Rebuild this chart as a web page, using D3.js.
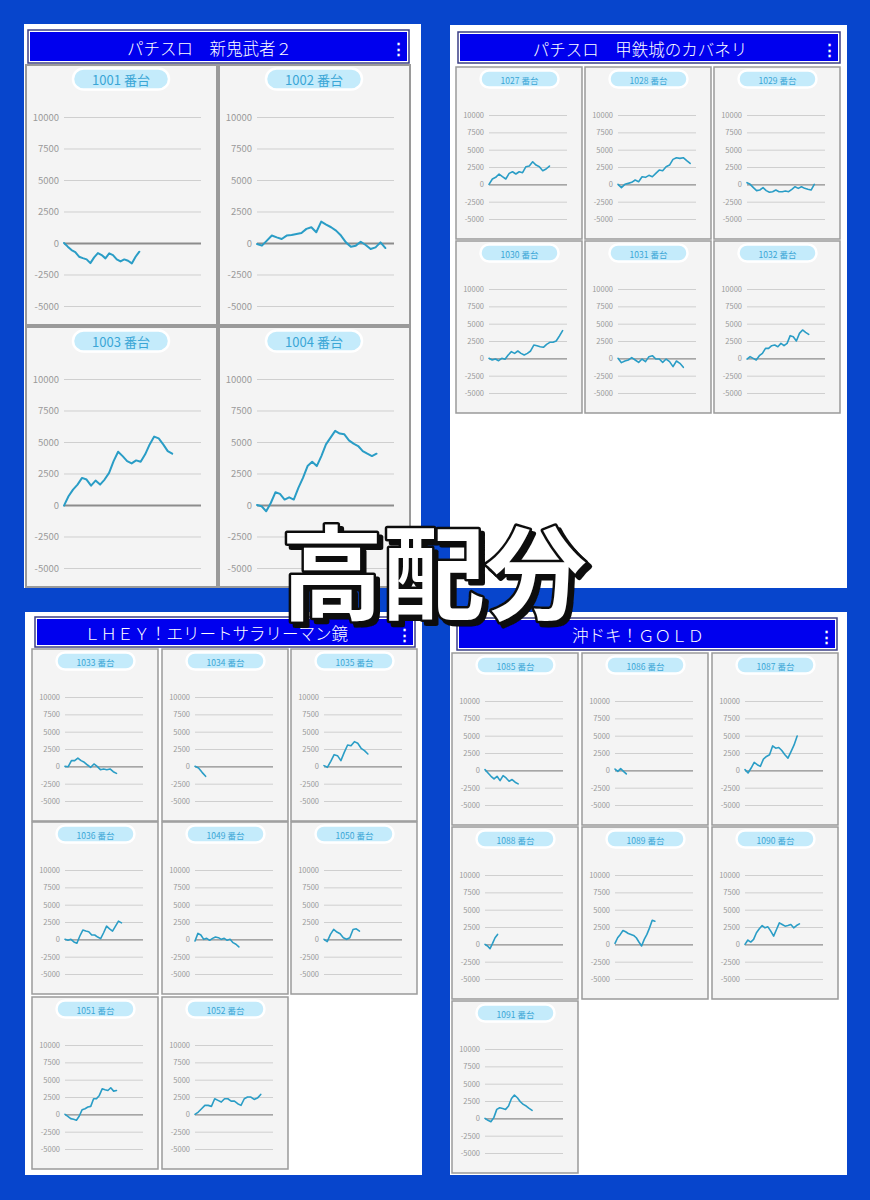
<!DOCTYPE html>
<html><head><meta charset="utf-8">
<script src="https://cdn.jsdelivr.net/npm/d3@7"></script>
<style>body{margin:0;background:#0745cc;} svg{display:block}</style>
</head><body><svg id="c" width="870" height="1200"></svg>
<script>
// ---------- DATA ----------
const panelTitles = ["パチスロ　新鬼武者２", "パチスロ　甲鉄城のカバネリ", "ＬＨＥＹ！エリートサラリーマン鏡", "沖ドキ！ＧＯＬＤ"];
const panelMachines = [
  [1001, 1002, 1003, 1004],
  [1027, 1028, 1029, 1030, 1031, 1032],
  [1033, 1034, 1035, 1036, 1049, 1050, 1051, 1052],
  [1085, 1086, 1087, 1088, 1089, 1090, 1091]
];
const yTicks = [10000, 7500, 5000, 2500, 0, -2500, -5000];
const gameMax = 8000;
const gamesPlayed = {
  1001: 4400, 1002: 7500, 1003: 6320, 1004: 6980,
  1027: 6200, 1028: 7400, 1029: 6900, 1030: 7550, 1031: 6700, 1032: 6330,
  1033: 5280, 1034: 1090, 1035: 4500, 1036: 5790, 1049: 4500, 1050: 3640, 1051: 5280, 1052: 6740,
  1085: 3400, 1086: 1160, 1087: 5350, 1088: 1290, 1089: 4090, 1090: 5580, 1091: 4830
};
const s1001 = [0, -290, -560, -720, -1090, -1200, -1300, -1600, -1140, -800, -960, -1220, -820, -960, -1300, -1460, -1300, -1410, -1620, -1090, -690];
const s1002 = [-80, -210, 190, 590, 450, 320, 590, 640, 720, 800, 1120, 1250, 850, 1700, 1460, 1250, 980, 590, 50, -290, -210, 100, -160, -480, -350, 50, -400];
const s1003 = [-50, 690, 1220, 1620, 2150, 2020, 1540, 1940, 1620, 2020, 2550, 3480, 4230, 3880, 3480, 3300, 3540, 3430, 4020, 4810, 5430, 5290, 4810, 4280, 4070];
const s1004 = [0, -100, -500, 160, 1010, 880, 430, 610, 430, 1360, 2150, 3090, 3430, 3090, 3880, 4810, 5350, 5880, 5670, 5610, 5130, 4870, 4680, 4280, 4070, 3880, 4070];
const s1027 = [0, 770, 1010, 1490, 1100, 770, 1580, 1820, 1490, 1820, 1680, 2540, 2640, 3260, 2780, 2540, 1970, 2210, 2640];
const s1028 = [0, -480, 0, 140, 290, 620, 380, 1100, 1010, 1300, 1100, 1580, 2060, 1970, 2540, 2780, 3600, 3840, 3740, 3840, 3410, 3020];
const s1029 = [240, 0, -480, -910, -820, -480, -910, -1150, -1060, -820, -1060, -1060, -960, -1060, -720, -340, -580, -340, -580, -720, -820, 0];
const s1030 = [0, -240, -100, -340, 0, -140, 480, 960, 720, 1060, 720, 480, 720, 1060, 1920, 1820, 1680, 1590, 2020, 2310, 2310, 2500, 3220, 3990];
const s1031 = [0, -620, -380, -240, 100, -240, -580, -100, -480, 240, 380, -100, -100, -580, -100, -480, -1200, -380, -720, -1300];
const s1032 = [-100, 240, 0, -240, 380, 720, 1440, 1440, 1820, 1920, 1680, 2160, 1820, 2160, 3270, 3120, 2500, 3600, 4090, 3750, 3460];
const s1033 = [0, -50, 820, 820, 1200, 820, 580, 190, -140, 340, 0, -480, -380, -480, -380, -770, -1010];
const s1034 = [0, -240, -870, -1440];
const s1035 = [100, -140, 720, 1680, 1540, 820, 2020, 3080, 2980, 3560, 3320, 2600, 2260, 1780];
const s1036 = [0, -140, 0, -380, -570, 480, 1330, 1190, 1100, 620, 620, 330, 100, 950, 1900, 1520, 1190, 1900, 2620, 2380];
const s1049 = [-240, 860, 620, 0, 140, -140, 140, 330, 240, 0, 140, -140, 0, -480, -710, -1100];
const s1050 = [0, -330, 710, 1430, 1050, 810, 240, 0, 240, 1430, 1520, 1190];
const s1051 = [0, -290, -620, -720, -860, -240, 670, 810, 1050, 1150, 2250, 2250, 2730, 3680, 3540, 3440, 3830, 3350, 3440];
const s1052 = [0, 330, 810, 1290, 1290, 1150, 2250, 2010, 1770, 2250, 2250, 1910, 1910, 1530, 1290, 2250, 2490, 2490, 2150, 2340, 2870];
const s1085 = [100, -380, -860, -1240, -860, -1480, -760, -1100, -1570, -1330, -1710, -1950];
const s1086 = [190, -140, 240, -140, -520];
const s1087 = [100, -380, 330, 1140, 810, 570, 1620, 2000, 2240, 3520, 3190, 3290, 2860, 2240, 1760, 2710, 3670, 4950];
const s1088 = [0, -240, -620, 140, 950, 1430];
const s1089 = [140, 950, 1430, 2000, 1810, 1570, 1430, 1290, 950, 330, -240, 710, 1430, 2380, 3480, 3330];
const s1090 = [0, 620, 330, 710, 1670, 2240, 2710, 2380, 2520, 1900, 1190, 2140, 3100, 2860, 2620, 2710, 2860, 2380, 2710, 2950];
const s1091 = [0, -290, -480, 100, 1290, 1530, 1430, 1290, 1770, 2870, 3350, 2970, 2390, 2010, 1770, 1430, 1150];
const seriesById = {1001:s1001,1002:s1002,1003:s1003,1004:s1004,1027:s1027,1028:s1028,1029:s1029,1030:s1030,1031:s1031,1032:s1032,
  1033:s1033,1034:s1034,1035:s1035,1036:s1036,1049:s1049,1050:s1050,1051:s1051,1052:s1052,
  1085:s1085,1086:s1086,1087:s1087,1088:s1088,1089:s1089,1090:s1090,1091:s1091};
const overlayText = "高配分";

// ---------- LAYOUT ----------
const FONT = "'Noto Sans CJK JP','Noto Sans',sans-serif";
const panels = [
  {x:24,y:24,w:397,h:564, hx:28,hy:30,hw:381,hh:33, cols:[26,219], cw:193, rows:[65,327], ch:260, big:true},
  {x:450,y:25,w:397,h:563, hx:458,hy:32,hw:382,hh:31, cols:[456,585,714], cw:128, rows:[67,241], ch:172},
  {x:25,y:612,w:397,h:563, hx:35,hy:617,hw:380,hh:30, cols:[32,162,291], cw:128, rows:[649,822,997], ch:172},
  {x:450,y:612,w:397,h:563, hx:457,hy:618,hw:380,hh:32, cols:[452,582,712], cw:128, rows:[653,827,1001], ch:172}
];
const styleBig = {pcx:95, pcy:14, pw:96, ph:21, pf:13, gx0:38, gx1:175, gyT:52, gyB:241, lf:9.5, lw:2};
const styleSmall = {pcx:63.5, pcy:12, pw:78, ph:17, pf:8.5, gx0:33, gx1:111, gyT:48, gyB:152, lf:7.5, lw:1.6};

const svg = d3.select("#c");
const defs = svg.append("defs");
const f = defs.append("filter").attr("id","shadow").attr("x","-10%").attr("y","-10%").attr("width","130%").attr("height","130%");
f.append("feDropShadow").attr("dx",4).attr("dy",4).attr("stdDeviation",0.3).attr("flood-color","#111").attr("flood-opacity",1);

svg.append("rect").attr("width",870).attr("height",1200).attr("fill","#0745cc");

panels.forEach((p, pi) => {
  const g = svg.append("g");
  g.append("rect").attr("x",p.x).attr("y",p.y).attr("width",p.w).attr("height",p.h).attr("fill","#ffffff");
  // header
  g.append("rect").attr("x",p.hx).attr("y",p.hy).attr("width",p.hw).attr("height",p.hh)
    .attr("fill","#ffffff").attr("stroke","#3b3f86").attr("stroke-width",1.5);
  g.append("rect").attr("x",p.hx+2).attr("y",p.hy+2).attr("width",p.hw-4).attr("height",p.hh-4)
    .attr("fill","#0000ee");
  g.append("text").attr("x",p.hx+p.hw/2-9).attr("y",p.hy+p.hh/2+1)
    .attr("text-anchor","middle").attr("dominant-baseline","central")
    .attr("fill","#ffffff").attr("font-family",FONT).attr("font-size",16.5).attr("font-weight",300)
    .text(panelTitles[pi]);
  g.append("text").attr("x",p.hx+p.hw-11).attr("y",p.hy+p.hh/2+1)
    .attr("text-anchor","middle").attr("dominant-baseline","central")
    .attr("fill","#ffffff").attr("font-family",FONT).attr("font-size",15).attr("font-weight",700)
    .text("⋮");

  const st = p.big ? styleBig : styleSmall;
  const nc = p.cols.length;
  panelMachines[pi].forEach((id, k) => {
    const cx = p.cols[k % nc], cy = p.rows[Math.floor(k / nc)];
    const bottom = Math.min(cy + p.ch, p.y + p.h);
    const cell = g.append("g");
    cell.append("rect").attr("x",cx).attr("y",cy).attr("width",p.cw-2).attr("height",bottom-cy)
      .attr("fill","#f4f4f4").attr("stroke","#9a9a9a").attr("stroke-width",p.big?2:1.5);

    const x = d3.scaleLinear().domain([0, gameMax]).range([cx+st.gx0, cx+st.gx1]);
    const y = d3.scaleLinear().domain([-5000, 10000]).range([cy+st.gyB, cy+st.gyT]);

    const ax = cell.append("g").attr("transform",`translate(${cx+st.gx0},0)`)
      .call(d3.axisLeft(y).tickValues(yTicks).tickSize(-(st.gx1-st.gx0)).tickPadding(5).tickFormat(d => String(d)));
    ax.select(".domain").remove();
    ax.selectAll(".tick line").attr("stroke", d => d===0 ? "#8c8c8c" : "#cfcfcf")
      .attr("stroke-width", d => d===0 ? (p.big?1.8:1.4) : 1);
    ax.selectAll(".tick text").attr("fill","#9a9a9a").attr("font-family",FONT).attr("font-size",st.lf);

    // pill
    cell.append("rect").attr("x",cx+st.pcx-st.pw/2).attr("y",cy+st.pcy-st.ph/2)
      .attr("width",st.pw).attr("height",st.ph).attr("rx",st.ph/2)
      .attr("fill","#c4ebfb").attr("stroke","#ffffff").attr("stroke-width",2.5);
    cell.append("text").attr("x",cx+st.pcx).attr("y",cy+st.pcy+0.5)
      .attr("text-anchor","middle").attr("dominant-baseline","central")
      .attr("fill","#3aa6d6").attr("font-family",FONT).attr("font-size",st.pf)
      .text(id + " 番台");

    const vals = seriesById[id];
    const n = vals.length;
    const step = gamesPlayed[id] / (n - 1);
    const line = d3.line().x((d,i) => x(i*step)).y(d => y(d));
    cell.append("path").datum(vals).attr("d",line)
      .attr("fill","none").attr("stroke","#2a9dc6").attr("stroke-width",st.lw)
      .attr("stroke-linejoin","round").attr("stroke-linecap","round");
  });
});

// big overlay text (single text, drop shadow via filter)
svg.append("text").attr("x",434).attr("y",567)
  .attr("text-anchor","middle").attr("dominant-baseline","central")
  .attr("font-family","'Noto Sans CJK JP',sans-serif").attr("font-weight",700).attr("font-size",102)
  .attr("fill","#ffffff").attr("stroke","#111").attr("stroke-width",5).attr("stroke-linejoin","round")
  .attr("paint-order","stroke").attr("filter","url(#shadow)")
  .text(overlayText);
</script></body></html>
